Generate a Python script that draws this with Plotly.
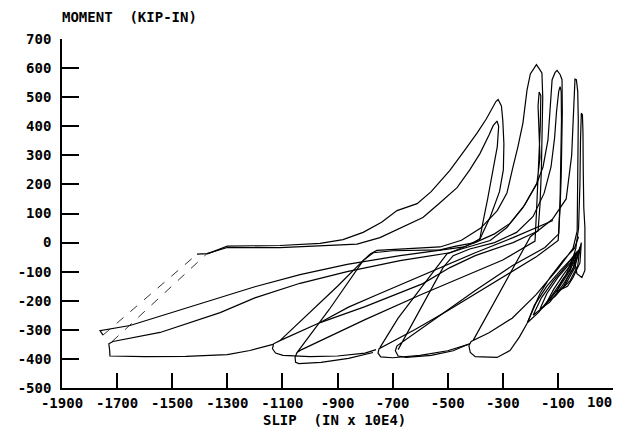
import plotly.graph_objects as go

# ---- axis ticks ----
X_TICKS = [-1900, -1700, -1500, -1300, -1100, -900, -700, -500, -300, -100, 100]
Y_TICKS = [-500, -400, -300, -200, -100, 0, 100, 200, 300, 400, 500, 600, 700]

# ---- dashed unloading branches (largest cycles) ----
DASH1_SLIP = [-1751, -1410]
DASH1_MOM = [-318, -40]
DASH2_SLIP = [-1719, -1374]
DASH2_MOM = [-341, -38]

# ---- cycle A (largest slip, peak near -320) ----
A1_SLIP = [-1410, -1370, -1300, -1109, -963, -880, -807, -740, -684, -611, -560, -492, -440, -393, -360, -335, -325,
           -317, -305, -300, -296, -298, -312, -345, -383, -440, -528, -673, -865, -1036, -1200, -1326, -1500,
           -1653, -1762, -1757, -1751]
A1_MOM = [-40, -38, -12, -10, -3, 10, 35, 70, 110, 134, 175, 248, 315, 377, 425, 466, 485,
          492, 470, 420, 340, 250, 175, 90, 12, -15, -27, -45, -75, -110, -152, -189, -240,
          -285, -303, -312, -318]

A2_SLIP = [-1374, -1300, -1109, -829, -746, -670, -590, -530, -466, -420, -383, -350, -335, -321,
           -315, -320, -335, -355, -372, -383, -401, -492, -673, -865, -1036, -1200, -1326, -1544, -1715,
           -1730, -1727, -1726, -1600, -1450, -1300, -1218, -1134]
A2_MOM = [-38, -17, -17, -5, 17, 50, 86, 135, 189, 250, 306, 370, 402, 418,
          400, 330, 250, 150, 70, 14, 0, -35, -62, -100, -140, -190, -241, -309, -340,
          -348, -370, -390, -392, -391, -385, -371, -350]

# ---- cycle B (peak near -180) ----
B1_SLIP = [-1109, -1000, -900, -807, -780, -757, -650, -528, -450, -380, -320, -285, -263, -245, -227, -212,
           -200, -185, -178, -168, -158, -155, -157, -160, -165, -172, -263, -400, -492, -590, -800,
           -963, -1109, -1132, -1136, -1125, -1098, -1000, -900, -800, -760]
B1_MOM = [-337, -240, -150, -62, -38, -27, -22, -15, 8, 50, 110, 170, 260, 330, 411, 525,
          580, 605, 612, 598, 583, 500, 380, 250, 130, 40, 0, -45, -86, -141, -220,
          -275, -337, -348, -365, -380, -388, -392, -390, -380, -368]

B2_SLIP = [-1047, -930, -807, -770, -700, -600, -528, -470, -401, -330, -274, -220, -176, -165, -168, -172,
           -168, -162, -164, -170, -178, -183, -300, -450, -600, -800, -960, -1030, -1047, -1054, -1052,
           -1040, -960, -860, -771]
B2_MOM = [-378, -230, -62, -35, -28, -27, -25, -12, 0, 30, 66, 130, 203, 293, 380, 470,
          518, 505, 400, 250, 100, 5, -60, -120, -180, -265, -335, -368, -378, -395, -412,
          -416, -412, -398, -378]

# ---- cycle C (peak near -100) ----
C1_SLIP = [-746, -680, -600, -530, -502, -450, -400, -346, -285, -227, -176, -154, -136, -129, -121, -110,
           -103, -92, -85, -84, -85, -88, -92, -99, -180, -266, -400, -502, -620, -700, -749, -753, -743,
           -700, -600, -500, -425]
C1_MOM = [-361, -260, -160, -70, -38, -22, -8, 7, 52, 120, 205, 260, 353, 466, 560, 585,
          592, 578, 560, 450, 353, 230, 120, 7, -50, -100, -175, -235, -300, -340, -365, -380, -393,
          -396, -388, -372, -350]

C2_SLIP = [-680, -600, -517, -480, -420, -330, -250, -190, -150, -125, -112, -105, -97, -92, -88, -87,
           -88, -92, -97, -147, -266, -400, -550, -684, -690, -680, -650, -560, -480, -419]
C2_MOM = [-368, -230, -86, -45, -22, 0, 35, 90, 170, 260, 360, 450, 520, 536, 520, 420,
          300, 150, 30, -17, -80, -165, -265, -355, -372, -390, -395, -388, -372, -347]

# ---- reloading branch reaching from the middle loops toward peak C ----
R_SLIP = [-963, -860, -746, -528, -400, -263, -180, -118]
R_MOM = [-275, -222, -175, -86, -35, 17, 50, 76]

# ---- cycle D (peak near -35) ----
D_SLIP = [-408, -340, -274, -200, -120, -70, -50, -45, -42, -38, -33, -28, -26, -27, -28, -30, -45, -100,
          -180, -266, -350, -415, -423, -418, -400, -321, -274, -240, -212, -165, -129, -80, -40, -25]
D_MOM = [-337, -220, -107, 20, 80, 150, 300, 430, 520, 562, 560, 520, 420, 300, 150, 40, -20, -90,
         -180, -260, -310, -340, -355, -378, -392, -395, -371, -325, -278, -175, -120, -60, -20, 20]

# ---- cycle E (peak near -15) ----
E_SLIP = [-60, -35, -25, -20, -18, -17, -15, -11, -9, -8, -6, -2, -1, -2, -13, -31, -40]
E_MOM = [-100, -20, 50, 200, 350, 420, 445, 440, 380, 250, 120, 52, -40, -96, -120, -107, -60]

# ---- small cycles near zero slip ----
S1_SLIP = [-210, -185, -140, -90, -45, -70, -120, -170, -210]
S1_MOM = [-275, -215, -150, -95, -50, -110, -180, -240, -275]
S2_SLIP = [-190, -160, -115, -70, -35, -55, -100, -150, -190]
S2_MOM = [-250, -190, -130, -80, -35, -95, -160, -220, -250]
S3_SLIP = [-165, -140, -100, -55, -30, -45, -85, -130, -165]
S3_MOM = [-228, -175, -120, -70, -30, -90, -150, -205, -228]
S4_SLIP = [-140, -115, -80, -45, -25, -38, -70, -110, -140]
S4_MOM = [-205, -160, -110, -65, -25, -85, -140, -185, -205]
S5_SLIP = [-105, -85, -55, -30, -20, -28, -55, -85, -105]
S5_MOM = [-170, -130, -90, -50, -15, -80, -130, -160, -170]
S6_SLIP = [-82, -65, -40, -25, -15, -20, -45, -65, -82]
S6_MOM = [-158, -120, -80, -40, 0, -70, -120, -150, -158]

SOLID = [
    (A1_SLIP, A1_MOM), (A2_SLIP, A2_MOM), (B1_SLIP, B1_MOM), (B2_SLIP, B2_MOM),
    (C1_SLIP, C1_MOM), (C2_SLIP, C2_MOM), (R_SLIP, R_MOM), (D_SLIP, D_MOM), (E_SLIP, E_MOM),
    (S1_SLIP, S1_MOM), (S2_SLIP, S2_MOM), (S3_SLIP, S3_MOM), (S4_SLIP, S4_MOM),
    (S5_SLIP, S5_MOM), (S6_SLIP, S6_MOM),
]
DASHED = [(DASH1_SLIP, DASH1_MOM), (DASH2_SLIP, DASH2_MOM)]

FONT = "DejaVu Sans Mono"

fig = go.Figure()
for xs, ys in SOLID:
    fig.add_trace(go.Scatter(x=xs, y=ys, mode="lines",
                             line=dict(color="black", width=1.2),
                             showlegend=False, hoverinfo="skip"))
for xs, ys in DASHED:
    fig.add_trace(go.Scatter(x=xs, y=ys, mode="lines",
                             line=dict(color="black", width=0.8, dash="dash"),
                             showlegend=False, hoverinfo="skip"))

tick_font = dict(family=FONT, size=14, color="black", weight="bold")

# the last x label sits at the right edge of the page, so it is drawn right-aligned
x_ticktext = [str(v) for v in X_TICKS[:-1]] + [""]

# the page body carries an 8 px default margin, so the figure is sized to fit inside it
fig.update_layout(
    width=616, height=419,
    margin=dict(l=54, r=11, t=31, b=39, autoexpand=False),
    paper_bgcolor="white", plot_bgcolor="white",
    font=dict(family=FONT, size=14, color="black"),
    xaxis=dict(range=[-1900.01, 100.01], tickvals=X_TICKS,
               ticktext=x_ticktext,
               ticks="inside", ticklen=15, tickwidth=1.5, tickcolor="black",
               showline=True, linewidth=1.6, linecolor="black",
               showgrid=False, zeroline=False, ticklabelstandoff=1,
               ticklabeloverflow="allow", automargin=False,
               tickfont=tick_font),
    yaxis=dict(range=[-500.01, 700.01], tickvals=Y_TICKS,
               ticktext=[str(v) for v in Y_TICKS],
               ticks="inside", ticklen=17, tickwidth=1.5, tickcolor="black",
               showline=True, linewidth=1.6, linecolor="black",
               showgrid=False, zeroline=False, ticklabelstandoff=6,
               ticklabeloverflow="allow", automargin=False,
               tickfont=tick_font),
    annotations=[
        dict(text="MOMENT  (KIP-IN)", xref="paper", yref="paper",
             x=-0.004, y=1.063, xanchor="left", yanchor="middle",
             showarrow=False, font=tick_font),
        dict(text="SLIP  (IN x 10E4)", xref="paper", yref="paper",
             x=0.495, y=-0.092, xanchor="center", yanchor="middle",
             showarrow=False, font=tick_font),
        dict(text=str(X_TICKS[-1]), xref="x", yref="paper",
             x=X_TICKS[-1], y=-0.04, xanchor="right", yanchor="middle",
             xshift=1, showarrow=False, font=tick_font),
    ],
)

fig.write_html("out.html")
